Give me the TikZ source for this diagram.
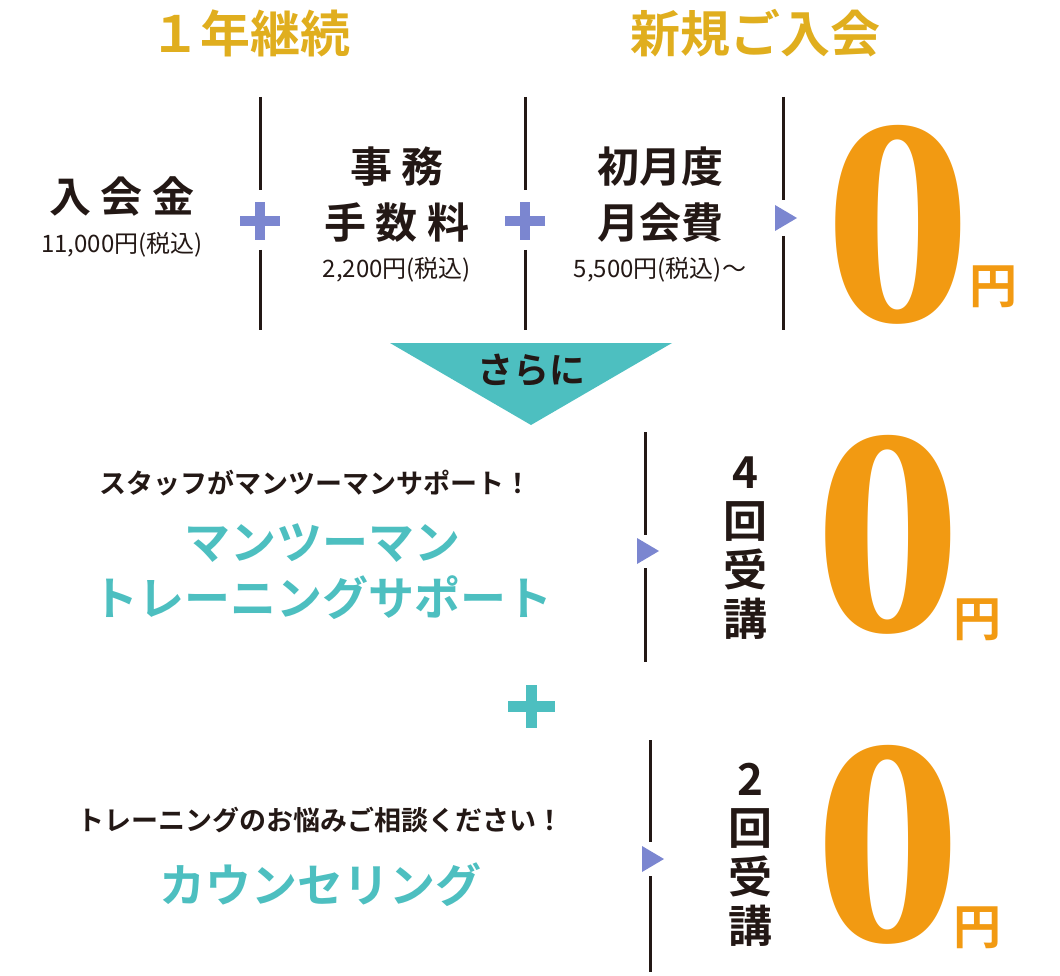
\documentclass[tikz,border=0pt]{standalone}
\usepackage{fontspec}
\setmainfont{Noto Sans CJK JP}[BoldFont={* Bold}]
\newfontfamily\zerofont{Liberation Serif}
\definecolor{gold}{HTML}{E0AE1E}
\definecolor{teal}{HTML}{4DBFC0}
\definecolor{violet}{HTML}{7B86D0}
\definecolor{ink}{HTML}{231815}
\definecolor{zeroor}{HTML}{F29A12}
\tikzset{
	head/.style={text=gold, font=\fontsize{50}{54}\selectfont\bfseries},
	item/.style={text=ink, font=\fontsize{42}{56}\selectfont\bfseries, align=center},
	price/.style={text=ink, font=\fontsize{24}{28}\selectfont},
	lead/.style={text=ink, font=\fontsize{27}{30}\selectfont\bfseries},
	title/.style={text=teal, font=\fontsize{46}{56}\selectfont\bfseries, align=center},
	times/.style={text=ink, font=\fontsize{44}{49}\selectfont\bfseries, align=center},
	zero/.style={text=zeroor, font=\fontsize{295}{295}\selectfont\zerofont\bfseries, inner sep=0},
	yen/.style={text=zeroor, font=\fontsize{48}{50}\selectfont\bfseries},
	sep/.style={ink, line width=3pt},
	pointer/.style={fill=violet, draw=none},
}
\begin{document}
\begin{tikzpicture}[x=1pt,y=-1pt]
	\useasboundingbox (0,0) rectangle (1060,976);
	% Kopfzeile
	\node[head] (cont) at (250,33) {１年継続};
	\node[head] (new) at (755,33) {新規ご入会};
	% Trennlinien oben
	\foreach \x in {260,525}{
		\draw[sep] (\x,97) -- (\x,190);
		\draw[sep] (\x,250) -- (\x,330);
	}
	\draw[sep] (783,97) -- (783,200);
	\draw[sep] (783,236) -- (783,330);
	% Plus violett
	\foreach \x in {260,525}{
		\fill[violet] (\x-5,202) rectangle (\x+5,240);
		\fill[violet] (\x-20,216) rectangle (\x+20,226);
	}
	\fill[pointer] (775,205) -- (797,218) -- (775,231) -- cycle;
	% Posten
	\node[item] (fee) at (122,196) {入 会 金};
	\node[price] (feep) at (122,245) {11,000円(税込)};
	\node[item] (admin) at (397,195) {事 務\\手 数 料};
	\node[price] (adminp) at (397,270) {2,200円(税込)};
	\node[item] (month) at (660,195) {初月度\\月会費};
	\node[price] (monthp) at (660,270) {5,500円(税込)～};
	\node[zero] (z1) at (898,225) {0};
	\node[yen] (y1) at (993,287) {円};
	% さらに
	\fill[teal] (390,343) -- (672,343) -- (531,425) -- cycle;
	\node[text=ink, font=\fontsize{36}{40}\selectfont\bfseries] (more) at (531,370) {さらに};
	% Trainingssupport
	\node[lead] (lead1) at (315,483) {スタッフがマンツーマンサポート！};
	\node[title] (train) at (322,572) {マンツーマン\\トレーニングサポート};
	\draw[sep] (645,432) -- (645,535);
	\draw[sep] (645,568) -- (645,662);
	\fill[pointer] (637,538) -- (659,551) -- (637,564) -- cycle;
	\node[times] (t4) at (745,548) {4\\回\\受\\講};
	\node[zero] (z2) at (888,535) {0};
	\node[yen] (y2) at (977,620) {円};
	% Plus türkis
	\fill[teal] (526,685) rectangle (537,728);
	\fill[teal] (508,701) rectangle (555,712);
	% Beratung
	\node[lead] (lead2) at (320,820) {トレーニングのお悩みご相談ください！};
	\node[title] (coun) at (320,885) {カウンセリング};
	\draw[sep] (650,740) -- (650,842);
	\draw[sep] (650,876) -- (650,972);
	\fill[pointer] (642,846) -- (664,859) -- (642,872) -- cycle;
	\node[times] (t2) at (750,855) {2\\回\\受\\講};
	\node[zero] (z3) at (888,845) {0};
	\node[yen] (y3) at (977,928) {円};
\end{tikzpicture}
\end{document}
